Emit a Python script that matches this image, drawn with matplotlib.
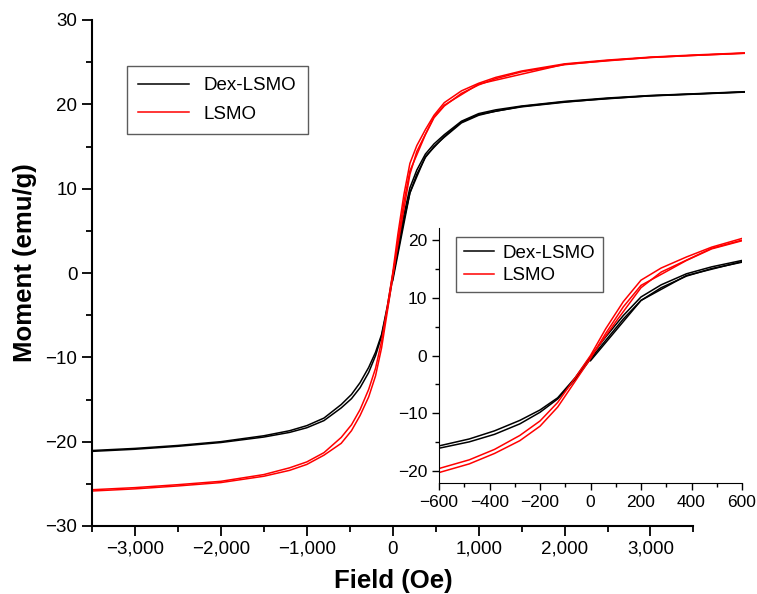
import matplotlib
matplotlib.use("Agg")
from matplotlib import pyplot as plt
from matplotlib.ticker import MultipleLocator, FuncFormatter

plt.rcParams['font.family'] = ['Liberation Sans', 'DejaVu Sans']

# field values (Oe), shared by all branches
field = [-3500, -3000, -2500, -2000, -1500, -1200, -1000, -800, -600, -480, -380,
         -280, -200, -130, -60, 0, 60, 130, 200, 280, 380, 480, 600, 800, 1000,
         1200, 1500, 2000, 2500, 3000, 3500, 4100]

# Dex-LSMO (black) - descending and ascending branch of the loop
dex_down = [-21.05, -20.8, -20.45, -20.0, -19.3, -18.7, -18.1, -17.2, -15.6, -14.4, -13.0,
            -11.2, -9.4, -7.3, -3.8, -0.2, 3.2, 6.9, 10.1, 12.2, 14.1, 15.3, 16.4, 18.0, 18.9,
            19.35, 19.8, 20.35, 20.75, 21.05, 21.25, 21.5]
dex_up = [-21.15, -20.9, -20.55, -20.1, -19.45, -18.9, -18.35, -17.5, -16.0, -14.9, -13.6,
          -11.8, -9.8, -7.5, -4.1, -0.6, 2.6, 6.3, 9.5, 11.7, 13.7, 15.0, 16.1, 17.8, 18.7,
          19.2, 19.7, 20.25, 20.7, 21.0, 21.2, 21.45]
# initial magnetisation curve
dex_virgin_h = [0, 200, 380, 600, 800, 1000, 1500, 2000, 3000, 4100]
dex_virgin_m = [-0.9, 9.5, 13.8, 16.2, 17.9, 18.8, 19.75, 20.3, 21.02, 21.47]

# LSMO (red)
lsmo_down = [-25.7, -25.45, -25.1, -24.7, -23.9, -23.1, -22.4, -21.3, -19.5, -18.0, -16.2,
             -13.8, -11.3, -8.1, -3.8, 0.0, 4.6, 9.3, 13.0, 15.1, 17.0, 18.7, 20.2, 21.6, 22.5,
             23.2, 23.95, 24.8, 25.25, 25.6, 25.85, 26.1]
lsmo_up = [-25.85, -25.6, -25.25, -24.85, -24.1, -23.4, -22.7, -21.6, -20.2, -18.7, -16.9,
           -14.7, -12.2, -8.9, -4.4, -0.5, 3.8, 8.4, 12.1, 14.0, 16.4, 18.4, 19.8, 21.3, 22.3,
           23.05, 23.85, 24.7, 25.2, 25.55, 25.8, 26.05]
lsmo_virgin_h = [0, 100, 200, 280, 480, 600, 1000, 2000, 3000, 4100]
lsmo_virgin_m = [-0.3, 5.8, 11.7, 14.4, 18.5, 19.9, 22.4, 24.75, 25.57, 26.07]

labels = ['Dex-LSMO', 'LSMO']
colors = ['black', '#ff0000']


def fmt_main(v, pos):
    return f"{v:,.0f}".replace('-', '\u2212')


def fmt_plain(v, pos):
    return f"{v:.0f}".replace('-', '\u2212')


def draw_loops(ax, lw):
    sets = [(dex_down, dex_up, dex_virgin_h, dex_virgin_m),
            (lsmo_down, lsmo_up, lsmo_virgin_h, lsmo_virgin_m)]
    for (down, up, vh, vm), lab, c in zip(sets, labels, colors):
        ax.plot(field, down, color=c, lw=lw, label=lab)
        ax.plot(field, up, color=c, lw=lw)
        ax.plot(vh, vm, color=c, lw=lw)


fig = plt.figure(figsize=(7.57, 5.94), dpi=100)

# main axes
ax = fig.add_axes([92/757, 1-526/594, 653/757, 506/594])
draw_loops(ax, 1.1)
ax.set_xlim(-3500, 4100)
ax.set_ylim(-30, 30)
ax.spines['top'].set_visible(False)
ax.spines['right'].set_visible(False)
ax.spines['bottom'].set_bounds(-3500, 3500)
for s in ['left', 'bottom']:
    ax.spines[s].set_linewidth(1.5)
ax.set_xticks([-3000, -2000, -1000, 0, 1000, 2000, 3000])
ax.set_xticks([-3500, -2500, -1500, -500, 500, 1500, 2500, 3500], minor=True)
ax.yaxis.set_major_locator(MultipleLocator(10))
ax.yaxis.set_minor_locator(MultipleLocator(5))
ax.xaxis.set_major_formatter(FuncFormatter(fmt_main))
ax.yaxis.set_major_formatter(FuncFormatter(fmt_plain))
ax.tick_params(which='major', length=7, width=1.3, labelsize=13.5, direction='out')
ax.tick_params(which='minor', length=4, width=1.3, direction='out')
ax.set_xlabel('Field (Oe)', fontsize=18.5, fontweight='bold', labelpad=8)
ax.xaxis.set_label_coords((393-92)/653, -0.085)
ax.set_ylabel('Moment (emu/g)', fontsize=18.5, fontweight='bold', labelpad=6)
ax.yaxis.set_label_coords(-0.084, 0.52)

leg = ax.legend(loc='upper left', bbox_to_anchor=(127/757, 1-66/594),
                bbox_transform=fig.transFigure, fontsize=13.5, frameon=True,
                fancybox=False, handlelength=2.7, borderpad=0.6, labelspacing=0.6,
                borderaxespad=0)
leg.get_frame().set_edgecolor('#333333')
leg.get_frame().set_linewidth(1.0)

# inset zoom around zero field
ins = fig.add_axes([439/757, 1-483/594, 303/757, 255/594])
draw_loops(ins, 1.1)
ins.set_xlim(-600, 600)
ins.set_ylim(-22, 22)
ins.spines['top'].set_visible(False)
ins.spines['right'].set_visible(False)
ins.xaxis.set_major_locator(MultipleLocator(200))
ins.xaxis.set_minor_locator(MultipleLocator(100))
ins.yaxis.set_major_locator(MultipleLocator(10))
ins.yaxis.set_minor_locator(MultipleLocator(5))
ins.xaxis.set_major_formatter(FuncFormatter(fmt_plain))
ins.yaxis.set_major_formatter(FuncFormatter(fmt_plain))
ins.tick_params(which='major', length=5, width=1.0, labelsize=12.5, direction='out')
ins.tick_params(which='minor', length=3, width=1.0, direction='out')

leg2 = ins.legend(loc='upper left', bbox_to_anchor=(456/757, 1-237/594),
                  bbox_transform=fig.transFigure, fontsize=13.5, frameon=True,
                  fancybox=False, handlelength=1.6, handletextpad=0.5,
                  borderpad=0.4, labelspacing=0.3, borderaxespad=0)
leg2.get_frame().set_edgecolor('#333333')
leg2.get_frame().set_linewidth(1.0)

fig.savefig('out.png', dpi=100)
